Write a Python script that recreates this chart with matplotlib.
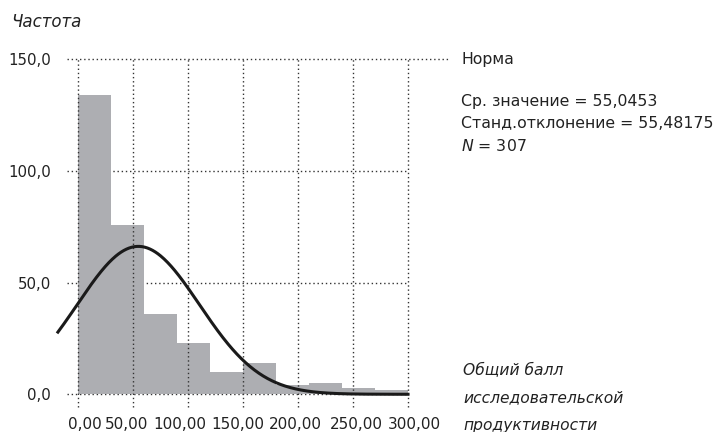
import numpy as np
import matplotlib
matplotlib.use("Agg")
import matplotlib.pyplot as plt
import matplotlib.transforms as mtransforms

plt.rcParams['font.family'] = ['Liberation Sans Narrow', 'DejaVu Sans']

# данные гистограммы (ширина интервала 30)
bin_edges = [0, 30, 60, 90, 120, 150, 180, 210, 240, 270, 300]
counts = [134, 76, 36, 23, 10, 14, 4, 5, 3, 2]
mean = 55.0453
std = 55.48175
n_total = 307

x_ticks = [0, 50, 100, 150, 200, 250, 300]
x_ticklabels = ["0,00", "50,00", "100,00", "150,00", "200,00", "250,00", "300,00"]
y_ticks = [0, 50, 100, 150]
y_ticklabels = ["0,0", "50,0", "100,0", "150,0"]

fig = plt.figure(figsize=(7.15, 4.32), dpi=100)
ax = fig.add_axes([0.0779, 0.0563, 0.4927, 0.8065])
ax.set_xlim(-20, 300)
ax.set_ylim(-6, 150)

grid_kw = dict(color='#333333', linewidth=1.0, linestyle=(0, (1, 2)), clip_on=False)

# гистограмма
widths = np.diff(bin_edges)
ax.bar(bin_edges[:-1], counts, width=widths, align='edge', color='#adaeb2',
       edgecolor='none', zorder=2)

# сетка: горизонтальные под столбцами, вертикальные поверх
for y in y_ticks:
    x_end = 338 if y == 150 else 300
    ax.plot([-10, x_end], [y, y], zorder=1, **grid_kw)
for x in x_ticks:
    ax.plot([x, x], [-5.5, 150], zorder=2.5, **grid_kw)

# нормальная кривая
xs = np.linspace(-18, 300, 400)
bw = widths[0]
ys = n_total * bw / (std * np.sqrt(2 * np.pi)) * np.exp(-0.5 * ((xs - mean) / std) ** 2)
ax.plot(xs, ys, color='#1a1a1a', linewidth=2.2, zorder=3, clip_on=False)

for s in ax.spines.values():
    s.set_visible(False)
ax.set_xticks(x_ticks)
ax.set_xticklabels(x_ticklabels, fontsize=11, color='#222222')
ax.set_yticks(y_ticks)
ax.set_yticklabels(y_ticklabels, fontsize=10.8, color='#222222')
ax.tick_params(axis='x', length=0, pad=7)
ax.tick_params(axis='y', length=0, pad=3.5)

# подписи оси x немного сдвинуты, как в оригинале
shifts = [7, -6, -7.5, -5.5, -2.5, 3.5, 6.5]
for lab, dx in zip(ax.get_xticklabels(), shifts):
    lab.set_transform(lab.get_transform() + mtransforms.ScaledTranslation(dx / 100, 0, fig.dpi_scale_trans))

fig.text(0.016, 0.95, "Частота", fontsize=12, style='italic', va='center', color='#222222')
fig.text(0.6475, 0.0787, "Общий балл\nисследовательской\nпродуктивности", fontsize=11.2,
         style='italic', va='center', ha='left', linespacing=2.0, color='#222222')

tkw = dict(fontsize=11.3, va='center', color='#222222')
fig.text(0.645, 0.862, "Норма", **tkw)
fig.text(0.645, 0.764, "Ср. значение = 55,0453", **tkw)
fig.text(0.645, 0.713, "Станд.отклонение = 55,48175", **tkw)
fig.text(0.645, 0.662, "$\\it{N}$ = 307", **tkw)

fig.savefig("out.png", dpi=100)
